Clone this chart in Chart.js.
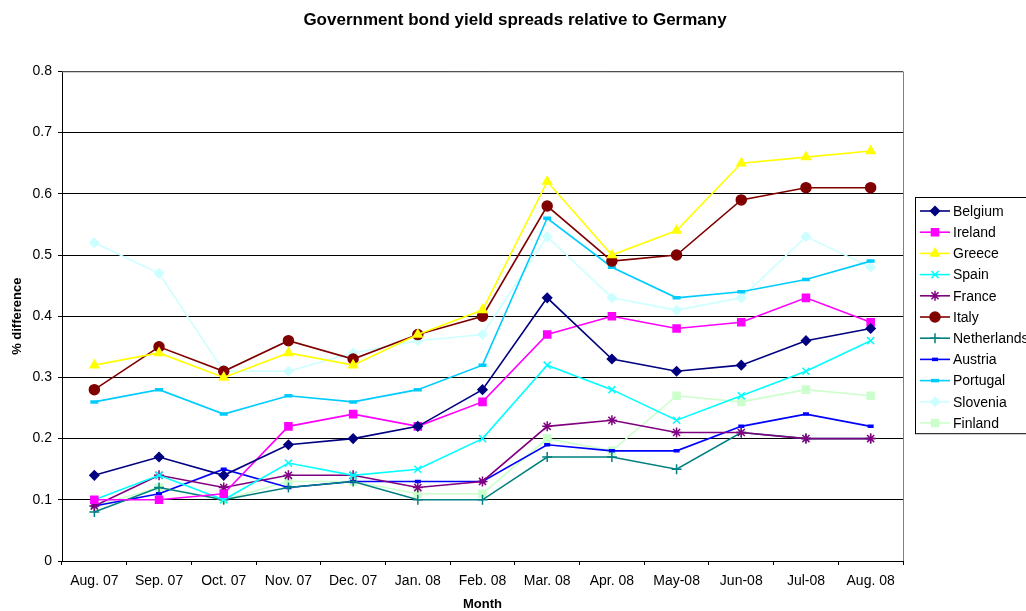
<!DOCTYPE html>
<html>
<head>
<meta charset="utf-8">
<script src="https://cdn.jsdelivr.net/npm/chart.js@4/dist/chart.umd.min.js"></script>
<style>
    html, body { margin: 0; padding: 0; background: #fff; }
    #wrap { width: 1026px; height: 611px; }
</style>
</head>
<body>
<div id="wrap"><canvas id="chart" width="1026" height="611"></canvas></div>
<script>
// months on the x axis
const months = ["Aug. 07", "Sep. 07", "Oct. 07", "Nov. 07", "Dec. 07", "Jan. 08", "Feb. 08",
    "Mar. 08", "Apr. 08", "May-08", "Jun-08", "Jul-08", "Aug. 08"]

// spreads, % difference vs Germany
const belgium     = [0.14, 0.17, 0.14, 0.19, 0.20, 0.22, 0.28, 0.43, 0.33, 0.31, 0.32, 0.36, 0.38]
const ireland     = [0.10, 0.10, 0.11, 0.22, 0.24, 0.22, 0.26, 0.37, 0.40, 0.38, 0.39, 0.43, 0.39]
const greece      = [0.32, 0.34, 0.30, 0.34, 0.32, 0.37, 0.41, 0.62, 0.50, 0.54, 0.65, 0.66, 0.67]
const spain       = [0.10, 0.14, 0.10, 0.16, 0.14, 0.15, 0.20, 0.32, 0.28, 0.23, 0.27, 0.31, 0.36]
const france      = [0.09, 0.14, 0.12, 0.14, 0.14, 0.12, 0.13, 0.22, 0.23, 0.21, 0.21, 0.20, 0.20]
const italy       = [0.28, 0.35, 0.31, 0.36, 0.33, 0.37, 0.40, 0.58, 0.49, 0.50, 0.59, 0.61, 0.61]
const netherlands = [0.08, 0.12, 0.10, 0.12, 0.13, 0.10, 0.10, 0.17, 0.17, 0.15, 0.21, 0.20, 0.20]
const austria     = [0.09, 0.11, 0.15, 0.12, 0.13, 0.13, 0.13, 0.19, 0.18, 0.18, 0.22, 0.24, 0.22]
const portugal    = [0.26, 0.28, 0.24, 0.27, 0.26, 0.28, 0.32, 0.56, 0.48, 0.43, 0.44, 0.46, 0.49]
const slovenia    = [0.52, 0.47, 0.31, 0.31, 0.34, 0.36, 0.37, 0.53, 0.43, 0.41, 0.43, 0.53, 0.48]
const finland     = [0.09, 0.12, 0.10, 0.13, 0.13, 0.11, 0.11, 0.20, 0.18, 0.27, 0.26, 0.28, 0.27]

const yTicks = [0, 0.1, 0.2, 0.3, 0.4, 0.5, 0.6, 0.7, 0.8]

const FONT = "'Liberation Sans', Arial, sans-serif"

// name, data, colour, marker, marker radius
const series = [
    ["Belgium", belgium, "#000080", "rectRot", 4.5],
    ["Ireland", ireland, "#FF00FF", "rect", 5],
    ["Greece", greece, "#FFFF00", "triangle", 5],
    ["Spain", spain, "#00FFFF", "crossRot", 5],
    ["France", france, "#800080", "star", 5],
    ["Italy", italy, "#800000", "circle", 5],
    ["Netherlands", netherlands, "#008080", "cross", 5],
    ["Austria", austria, "#0000FF", "line", 3],
    ["Portugal", portugal, "#00CCFF", "line", 4],
    ["Slovenia", slovenia, "#CCFFFF", "rectRot", 4.5],
    ["Finland", finland, "#CCFFCC", "rect", 5],
]

const datasets = series.map(([name, data, color, style, r]) => {
    const isLine = style == "line"
    return {
        label: name,
        data: data,
        borderColor: color,
        backgroundColor: color,
        borderWidth: 1.6,
        pointStyle: style,
        pointRadius: r,
        pointHoverRadius: r,
        pointBorderWidth: isLine ? 3.5 : 1.5,
        fill: false,
        tension: 0
    }
})

// legend with line + marker inside a box, right of the plot
const boxLegend = {
    id: "boxLegend",
    afterDraw(chart) {
        const ctx = chart.ctx
        const x0 = chart.chartArea.right + 12
        const y0 = 197
        const rowH = 21.2
        ctx.save()
        ctx.strokeStyle = "#000"
        ctx.lineWidth = 1
        ctx.strokeRect(x0 + 0.5, y0 + 0.5, 120, series.length * rowH + 3)
        ctx.font = "14px " + FONT
        ctx.textBaseline = "middle"
        ctx.textAlign = "left"
        series.forEach(([name, , color, style, r], i) => {
            const y = y0 + 14 + i * rowH
            ctx.strokeStyle = color
            ctx.lineWidth = 1.6
            ctx.beginPath()
            ctx.moveTo(x0 + 5, y)
            ctx.lineTo(x0 + 35, y)
            ctx.stroke()
            ctx.fillStyle = color
            ctx.lineWidth = style == "line" ? 3.5 : 1.5
            Chart.helpers.drawPoint(ctx, { pointStyle: style, radius: r, borderWidth: ctx.lineWidth }, x0 + 20, y)
            ctx.fillStyle = "#000"
            ctx.fillText(name, x0 + 38, y + 1)
        })
        ctx.restore()
    }
}

// grey frame around the plot area
const plotFrame = {
    id: "plotFrame",
    beforeDatasetsDraw(chart) {
        const a = chart.chartArea
        const ctx = chart.ctx
        ctx.save()
        ctx.strokeStyle = "#808080"
        ctx.lineWidth = 1
        ctx.beginPath()
        ctx.moveTo(a.left, a.top + 0.5)
        ctx.lineTo(a.right + 0.5, a.top + 0.5)
        ctx.lineTo(a.right + 0.5, a.bottom)
        ctx.stroke()
        ctx.restore()
    }
}

new Chart(document.getElementById("chart"), {
    type: "line",
    data: { labels: months, datasets: datasets },
    options: {
        responsive: false,
        animation: false,
        layout: { padding: { left: 4, right: 0, top: 0, bottom: 0 } },
        plugins: {
            legend: { display: false },
            tooltip: { enabled: false },
            title: {
                display: true,
                text: "Government bond yield spreads relative to Germany",
                color: "#000",
                font: { family: FONT, size: 17, weight: "bold" },
                padding: { top: 10, bottom: 41 }
            }
        },
        scales: {
            x: {
                offset: true,
                grid: { offset: true, drawOnChartArea: false, color: "#000", tickLength: 4 },
                border: { color: "#000", width: 1 },
                ticks: {
                    color: "#000", maxRotation: 0, autoSkip: false,
                    font: { family: FONT, size: 14, lineHeight: 1 }, padding: 9
                },
                title: {
                    display: true, text: "Month", color: "#000",
                    font: { family: FONT, size: 13, weight: "bold", lineHeight: 1 }, padding: { top: 9, bottom: 0 }
                },
                afterFit: (scale) => { scale.height = 50 }
            },
            y: {
                min: 0, max: 0.8,
                afterBuildTicks: (scale) => { scale.ticks = yTicks.map(v => ({ value: v })) },
                grid: { color: "#000", lineWidth: 1, tickLength: 4 },
                border: { color: "#000", width: 1 },
                ticks: {
                    color: "#000", font: { family: FONT, size: 14 }, padding: 6,
                    callback: (v) => String(Math.round(v * 10) / 10)
                },
                title: {
                    display: true, text: "% difference", color: "#000",
                    font: { family: FONT, size: 13, weight: "bold" }, padding: { top: 6, bottom: 10 }
                },
                afterFit: (scale) => { scale.width = 58 }
            },
            y2: {
                position: "right",
                min: 0, max: 0.8,
                grid: { drawOnChartArea: false, drawTicks: false },
                border: { display: false },
                ticks: { display: false },
                afterFit: (scale) => { scale.width = 123 }
            }
        }
    },
    plugins: [plotFrame, boxLegend]
})
</script>
</body>
</html>
